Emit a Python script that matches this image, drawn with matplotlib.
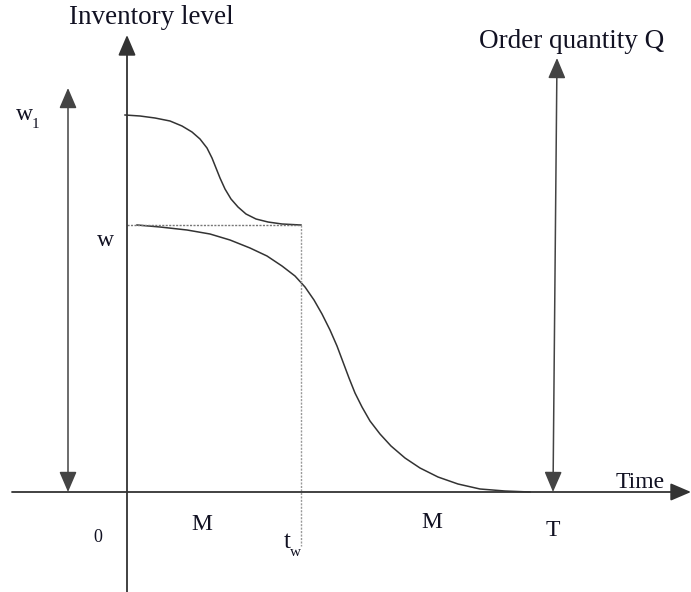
import matplotlib
matplotlib.use("Agg")
import matplotlib.pyplot as plt

# Inventory curves (time units, level units)
upper_t = [-2, 13, 28, 43, 55, 65, 73, 80, 85, 89, 93, 98, 104, 111, 119, 129, 141, 155, 174]
upper_level = [377, 376, 374, 371, 366, 360, 353, 344, 334, 324, 314, 303, 293, 285, 278, 273, 270, 268, 267]

lower_t = [10, 33, 60, 83, 103, 123, 140, 155, 168, 178, 187, 195, 203, 210,
           216, 222, 228, 235, 243, 253, 264, 278, 293, 311, 331, 353, 378, 403]
lower_level = [267, 265, 262, 258, 252, 244, 236, 226, 216, 205, 192, 178, 162, 146,
               130, 114, 99, 85, 71, 58, 46, 34, 24, 15, 8, 3, 1, 0]

w_level = 267
t_w = 174
T = 426

plt.rcParams["font.family"] = ["Liberation Serif", "DejaVu Serif"]

fig = plt.figure(figsize=(6.91, 5.92), dpi=100)
ax = fig.add_axes([0, 0, 1, 1])
ax.set_xlim(-127, 564)
ax.set_ylim(-100, 492)
ax.axis("off")

line_col = "#333333"
arrow_col = "#444444"
text_col = "#111122"

# axes with arrow heads
ax.annotate("", xy=(564, 0), xytext=(-115, 0),
            arrowprops=dict(arrowstyle="-|>,head_length=0.7,head_width=0.3",
                            color=line_col, lw=1.3, shrinkA=0, shrinkB=0,
                            mutation_scale=18))
ax.annotate("", xy=(0, 457), xytext=(0, -100),
            arrowprops=dict(arrowstyle="-|>,head_length=0.7,head_width=0.3",
                            color=line_col, lw=1.3, shrinkA=0, shrinkB=0,
                            mutation_scale=18))

# double arrows for w1 and Q
ax.annotate("", xy=(-59, 404), xytext=(-59, 0),
            arrowprops=dict(arrowstyle="<|-|>,head_length=0.7,head_width=0.3",
                            color=arrow_col, lw=1.1, shrinkA=0, shrinkB=0,
                            mutation_scale=18))
ax.annotate("", xy=(430, 434), xytext=(T, 0),
            arrowprops=dict(arrowstyle="<|-|>,head_length=0.7,head_width=0.3",
                            color=arrow_col, lw=1.1, shrinkA=0, shrinkB=0,
                            mutation_scale=18))

# curves
ax.plot(upper_t, upper_level, color=line_col, lw=1.1, solid_joinstyle="round")
ax.plot(lower_t, lower_level, color=line_col, lw=1.1, solid_joinstyle="round")

# dotted guides
ax.plot([0, t_w], [w_level, w_level], color="#777777", lw=1.0, ls=(0, (1.5, 1.0)))
ax.plot([t_w, t_w], [w_level, -54], color="#999999", lw=1.0, ls=(0, (1.5, 1.0)))

# labels
ax.text(24, 474, "Inventory level", fontsize=19.5, color=text_col, ha="center", va="center")
ax.text(445, 450, "Order quantity Q", fontsize=19.5, color=text_col, ha="center", va="center")
ax.text(-103, 378, "w", fontsize=17, color=text_col, ha="center", va="center")
ax.text(-92, 368, "1", fontsize=11, color=text_col, ha="center", va="center")
ax.text(-22, 252, "w", fontsize=17, color=text_col, ha="center", va="center")
ax.text(-29, -45, "0", fontsize=13, color=text_col, ha="center", va="center")
ax.text(75, -32, "M", fontsize=17, color=text_col, ha="center", va="center")
ax.text(305, -30, "M", fontsize=17, color=text_col, ha="center", va="center")
ax.text(426, -38, "T", fontsize=17, color=text_col, ha="center", va="center")
ax.text(160, -50, "t", fontsize=18, color=text_col, ha="center", va="center")
ax.text(168, -60, "w", fontsize=11, color=text_col, ha="center", va="center")
ax.text(513, 10, "Time", fontsize=17, color=text_col, ha="center", va="center")

fig.savefig("out.png", dpi=100)
